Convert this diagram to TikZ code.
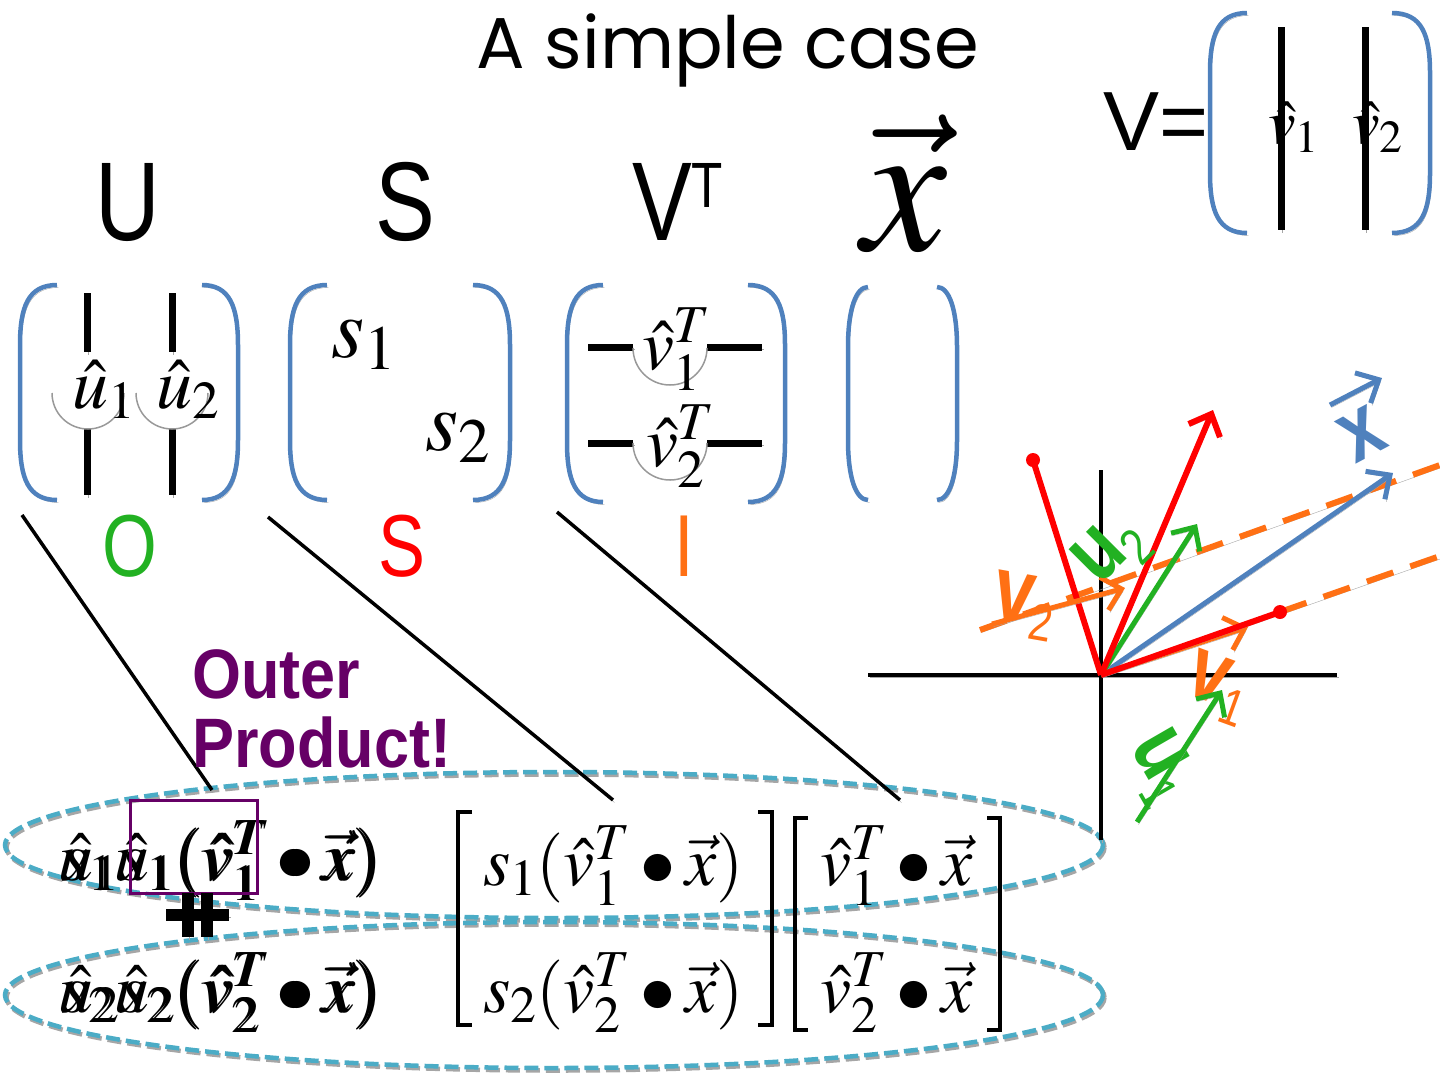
\documentclass[tikz,border=0pt]{standalone}
\usepackage{mathptmx}
\usepackage{fontspec}
\setmainfont{Liberation Serif}
\newfontfamily\titlefont{Poppins}
\newfontfamily\hfont[FakeStretch=0.8]{Liberation Sans}
\newfontfamily\ofont[FakeStretch=0.9]{Liberation Sans}
\newfontfamily\sfn{Liberation Sans}
\usetikzlibrary{arrows.meta,shapes.geometric}
\definecolor{pblue}{RGB}{79,129,189}
\definecolor{eblue}{RGB}{75,172,198}
\definecolor{vgreen}{RGB}{34,177,34}
\definecolor{vorange}{RGB}{255,112,20}
\definecolor{vpurple}{RGB}{102,0,102}
\definecolor{vred}{RGB}{255,0,0}
\newcommand\fs[1]{\fontsize{#1}{#1}\selectfont}
\tikzset{
 shd/.style={preaction={draw=black!35,transform canvas={shift={(1.5pt,-2.5pt)}}}},
 parline/.style={draw=pblue,line width=4.5pt,shd},
 bar/.style={draw=black,line width=7pt,shd},
 blk/.style={draw=black,line width=3.5pt,shd},
 brk/.style={draw=black,line width=4.5pt},
 arcg/.style={draw=black!40,line width=1.5pt},
 openarr/.style={-{Straight Barb[length=18pt,width=34pt]}},
 txt/.style={inner sep=0pt,outer sep=0pt},
 ell/.style={ellipse,draw=eblue,line width=4.5pt,dash pattern=on 14pt off 6pt,minimum width=1098pt,minimum height=146pt,inner sep=0pt,shd},
 lab/.style={inner sep=0pt,font=\hfont\bfseries\fs{90}},
}
\newcommand\myLP[4]{\draw[parline] (#2,#3) .. controls ({#1+8},#3) and (#1,{#3+22}) .. (#1,{#3+60}) -- (#1,{#4-60}) .. controls (#1,{#4-22}) and ({#1+8},#4) .. (#2,#4);}
\newcommand\myRP[4]{\draw[parline] (#1,#3) .. controls ({#2-8},#3) and (#2,{#3+22}) .. (#2,{#3+60}) -- (#2,{#4-60}) .. controls (#2,{#4-22}) and ({#2-8},#4) .. (#1,#4);}
\newcommand\subx[1]{\raisebox{-16pt}{\mdseries\fs{52}#1}}
\begin{document}
\begin{tikzpicture}[x=1pt,y=-1pt]
\useasboundingbox (0,0) rectangle (1440,1080);
% title
\node[txt,anchor=base] (title) at (728,68) {\titlefont\fs{72}A simple case};
% V = matrix
\node[txt,anchor=base west] (Veq) at (1103,150) {\sfn\fs{84}V=};
\myLP{1210}{1247}{13}{233}
\myRP{1392}{1430}{13}{233}
\draw[bar] (1281,27) -- (1281,230);
\draw[bar] (1365,27) -- (1365,230);
\node[txt,anchor=base west] (vv1) at (1268,143) {\fs{62}$\hat{v}_1$};
\node[txt,anchor=base west] (vv2) at (1352,143) {\fs{62}$\hat{v}_2$};
% headings
\node[txt,anchor=base] (hU) at (128,240) {\hfont\fs{112}U};
\node[txt,anchor=base] (hS) at (405,240) {\hfont\fs{112}S};
\node[txt,anchor=base] (hV) at (662,240) {\hfont\fs{112}V};
\node[txt,anchor=base west] (hT) at (691,207) {\hfont\fs{64}T};
\node[txt,anchor=base] (hx) at (905,250) {\fs{190}$\vec{x}$};
% U matrix
\myLP{20}{57}{285}{500}
\myRP{202}{238}{285}{500}
\draw[bar] (87,293) -- (87,352);
\draw[bar] (87,428) -- (87,495);
\draw[bar] (172,293) -- (172,352);
\draw[bar] (172,428) -- (172,495);
\draw[arcg] (52,393) arc[start angle=180,end angle=0,radius=36];
\draw[arcg] (136,393) arc[start angle=180,end angle=0,radius=36];
\node[txt,anchor=base west] (u1) at (72,408) {\fs{72}$\hat{u}_1$};
\node[txt,anchor=base west] (u2) at (156,408) {\fs{72}$\hat{u}_2$};
% S matrix
\myLP{290}{327}{285}{500}
\myRP{473}{510}{285}{500}
\node[txt,anchor=base west] (s1) at (331,357) {\fs{85}$s_1$};
\node[txt,anchor=base west] (s2) at (425,450) {\fs{85}$s_2$};
% V^T matrix
\myLP{567}{603}{285}{502}
\myRP{748}{785}{285}{502}
\draw[bar] (588,347) -- (633,347);
\draw[bar] (707,347) -- (762,347);
\draw[bar] (588,443) -- (633,443);
\draw[bar] (707,443) -- (762,443);
\draw[arcg] (633,348) arc[start angle=180,end angle=0,radius=37];
\draw[arcg] (633,443) arc[start angle=180,end angle=0,radius=37];
\node[txt,anchor=base west] (vt1) at (642,369) {\fs{72}$\hat{v}_1^T$};
\node[txt,anchor=base west] (vt2) at (646,466) {\fs{72}$\hat{v}_2^T$};
% x matrix
\myLP{848}{868}{287}{500}
\myRP{937}{957}{287}{500}
% O S I
\node[txt,anchor=base] (O) at (130,576) {\hfont\fs{88}\color{vgreen}O};
\node[txt,anchor=base] (S) at (402,576) {\hfont\fs{88}\color{vred}S};
\node[txt,anchor=base] (I) at (684,576) {\hfont\fs{88}\color{vorange}I};
% ellipses
\node[ell] (e1) at (554,845) {};
\node[ell] (e2) at (554,995) {};
% diagonal connectors
\coordinate (d1a) at (22,515); \coordinate (d1b) at (212,790);
\coordinate (d2a) at (268,517); \coordinate (d2b) at (613,800);
\coordinate (d3a) at (557,512); \coordinate (d3b) at (900,800);
\draw[blk] (d1a) -- (d1b);
\draw[blk] (d2a) -- (d2b);
\draw[blk] (d3a) -- (d3b);
% outer product
\node[txt,anchor=base west] (op1) at (192,698) {\ofont\bfseries\fs{70}\color{vpurple}Outer};
\node[txt,anchor=base west] (op2) at (192,767) {\ofont\bfseries\fs{70}\color{vpurple}Product!};
% overlapped expressions
\node[txt,anchor=base west] (r1a) at (58,880) {\fs{70}$\hat{u}_1 s_1(\hat{v}_1^T\bullet\vec{x})$};
\node[txt,anchor=base west] (r1b) at (61,880) {\fs{70}$s_1\hat{u}_1(\hat{v}_1^T\bullet\vec{x})$};
\node[txt,anchor=base west] (r2a) at (58,1012) {\fs{70}$\hat{u}_2 s_2(\hat{v}_2^T\bullet\vec{x})$};
\node[txt,anchor=base west] (r2b) at (61,1012) {\fs{70}$s_2\hat{u}_2(\hat{v}_2^T\bullet\vec{x})$};
\node[draw=vpurple,line width=3pt,minimum width=127pt,minimum height=93pt,inner sep=0pt] (box) at (193.5,846.5) {};
\draw[line width=12pt,shd] (166,915) -- (210,915);
\draw[line width=12pt,shd] (188,893) -- (188,937);
\draw[line width=12pt,shd] (185,915) -- (229,915);
\draw[line width=12pt,shd] (207,893) -- (207,937);
% bottom matrices
\draw[brk] (472,812) -| (458,1025) -- (472,1025);
\draw[brk] (758,812) -| (772,1025) -- (758,1025);
\draw[brk] (808,818) -| (795,1030) -- (808,1030);
\draw[brk] (987,818) -| (1000,1030) -- (987,1030);
\node[txt,anchor=base west] (m11) at (483,885) {\fs{70}$s_1(\hat{v}_1^T\bullet\vec{x})$};
\node[txt,anchor=base west] (m21) at (483,1012) {\fs{70}$s_2(\hat{v}_2^T\bullet\vec{x})$};
\node[txt,anchor=base west] (m12) at (820,885) {\fs{70}$\hat{v}_1^T\bullet\vec{x}$};
\node[txt,anchor=base west] (m22) at (820,1012) {\fs{70}$\hat{v}_2^T\bullet\vec{x}$};
% plot
\coordinate (o) at (1101,675);
\coordinate (axL) at (868,675); \coordinate (axR) at (1337,675);
\coordinate (axT) at (1101,470); \coordinate (axB) at (1101,840);
\draw[line width=4pt,shd] (axL) -- (axR);
\draw[line width=4pt,shd] (axT) -- (axB);
\coordinate (dA) at (980,630); \coordinate (dB) at (1440,465);
\coordinate (p1) at (1280,612); \coordinate (dC) at (1440,556);
\draw[vorange,line width=6pt,dash pattern=on 28pt off 18pt,shd] (dA) -- (dB);
\draw[vorange,line width=6pt,dash pattern=on 28pt off 18pt,shd] (p1) -- (dC);
\coordinate (v1e) at (1248,627);
\draw[vorange,line width=5pt,openarr,shd] (o) -- (v1e);
\coordinate (xe) at (1393,473);
\draw[pblue,line width=5pt,openarr,shd] (o) -- (xe);
\coordinate (u2e) at (1197,524);
\draw[vgreen,line width=5pt,openarr,shd] (o) -- (u2e);
\coordinate (re) at (1213,410);
\draw[vred,line width=6pt,openarr,shd] (o) -- (re);
\coordinate (p2) at (1033,460);
\draw[vred,line width=6pt,shd] (o) -- (p2);
\draw[vred,line width=6pt,shd] (o) -- (p1);
\fill[vred] (p2) circle[radius=7];
\fill[vred] (p1) circle[radius=7];
% vector labels
\coordinate (la1) at (992,624); \coordinate (la2) at (1125,588);
\draw[vorange,line width=5pt,openarr,shd] (la1) -- (la2);
\node[lab,text=vorange,rotate=-10] (lv2) at (1024,606) {v\subx{2}};
\node[lab,text=vgreen,rotate=45] (lu2) at (1112,552) {u\subx{2}};
\node[lab,text=vorange,rotate=-20] (lv1) at (1218,688) {v\subx{1}};
\node[lab,text=vgreen,rotate=-60] (lu1) at (1160,768) {u\subx{1}};
\coordinate (lb1) at (1137,822); \coordinate (lb2) at (1222,690);
\draw[vgreen,line width=5pt,openarr,shd] (lb1) -- (lb2);
\node[lab,text=pblue,rotate=28] (lx) at (1362,434) {x};
\coordinate (lc1) at (1330,405); \coordinate (lc2) at (1382,378);
\draw[pblue,line width=5pt,openarr,shd] (lc1) -- (lc2);
\end{tikzpicture}
\end{document}
